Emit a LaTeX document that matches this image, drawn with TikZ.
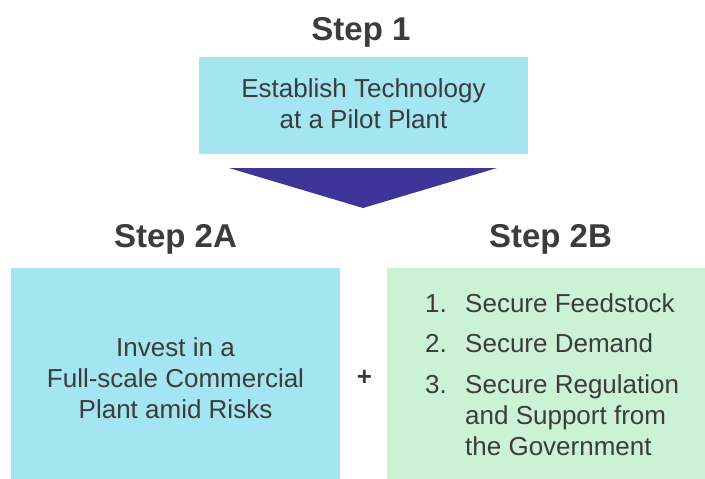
\documentclass[tikz,border=0pt]{standalone}
\usepackage{fontspec}
\setmainfont{Liberation Sans}
\usetikzlibrary{positioning}

\definecolor{boxcyan}{HTML}{A3E5F0}
\definecolor{boxgreen}{HTML}{CCF2D6}
\definecolor{arrowblue}{HTML}{3F3599}
\definecolor{inkgray}{HTML}{3C3C3C}

\tikzset{
  steptitle/.style={font=\fontsize{33}{36}\selectfont\bfseries, text=inkgray, inner sep=0pt, anchor=base},
  stepbox/.style={rectangle, inner sep=0pt, anchor=north west},
  boxtext/.style={font=\fontsize{26}{31}\selectfont, text=inkgray, inner sep=0pt, align=center, anchor=base},
  listtext/.style={font=\fontsize{26}{31}\selectfont, text=inkgray, inner sep=0pt, align=left, anchor=base west},
}

\begin{document}
\begin{tikzpicture}[x=1pt, y=-1pt]
    \useasboundingbox (0,0) rectangle (705,479);
    % step 1
    \node[steptitle] (title1) at (361,40) {Step 1};
    \node[stepbox, fill=boxcyan, minimum width=329, minimum height=97] (pilot) at (199,57) {};
    \node[boxtext] (pilottext) at (363.5,128) {Establish Technology\\at a Pilot Plant};
    \fill[arrowblue] (229,168) -- (497,168) -- (363,208) -- cycle;
    % step 2A
    \node[steptitle] (title2a) at (175.5,247) {Step 2A};
    \node[stepbox, fill=boxcyan, minimum width=329, minimum height=212] (invest) at (11,268) {};
    \node[boxtext] (investtext) at (175.5,418) {Invest in a\\Full-scale Commercial\\Plant amid Risks};
    \node[font=\fontsize{26}{30}\selectfont\bfseries, text=inkgray, inner sep=0pt] (plus) at (364.5,378) {+};
    % step 2B
    \node[steptitle] (title2b) at (550.5,247) {Step 2B};
    \node[stepbox, fill=boxgreen, minimum width=318, minimum height=212] (secure) at (387,268) {};
    \node[listtext] (num1) at (425,312) {1.};
    \node[listtext] (item1) at (465,312) {Secure Feedstock};
    \node[listtext] (num2) at (425,352) {2.};
    \node[listtext] (item2) at (465,352) {Secure Demand};
    \node[listtext] (num3) at (425,393) {3.};
    \node[listtext] (item3) at (465,455) {Secure Regulation\\and Support from\\the Government};
\end{tikzpicture}
\end{document}
